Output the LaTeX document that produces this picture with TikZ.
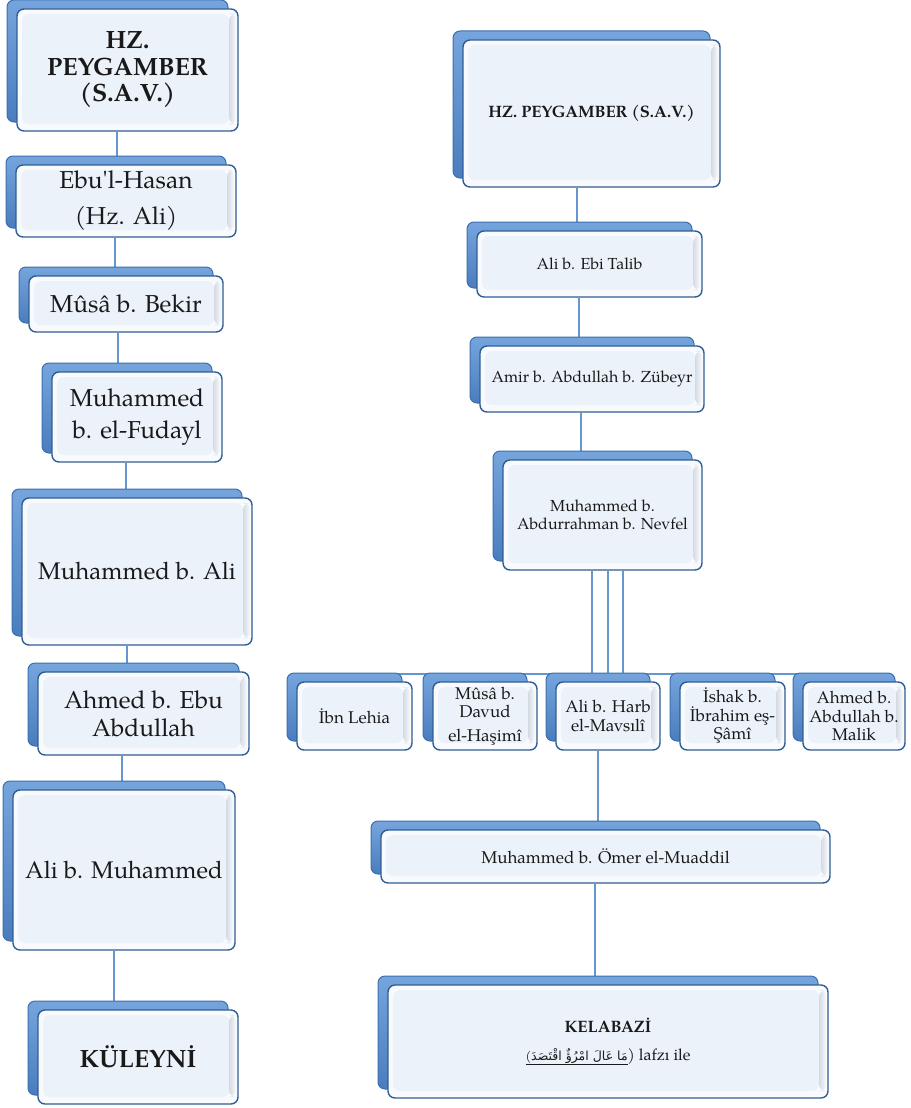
\documentclass[tikz,border=0pt]{standalone}
\usepackage{fontspec}
\setmainfont{texgyrepagella}[Extension=.otf, UprightFont=*-regular, BoldFont=*-bold, ItalicFont=*-italic, BoldItalicFont=*-bolditalic]
\newfontfamily\palq{texgyrepagella}[Extension=.otf, UprightFont=*-regular]
\newfontfamily\arabicfont[Script=Arabic]{DejaVu Sans}
\TeXXeTstate=1
\definecolor{frontb}{HTML}{2F5E93}
\definecolor{outerf}{HTML}{F8FAFD}
\definecolor{innerf}{HTML}{ECF2FA}
\definecolor{bevr}{HTML}{D3DAE3}
\definecolor{backb}{HTML}{3B6FAE}
\definecolor{backt}{HTML}{76A5DD}
\definecolor{backbt}{HTML}{4A7DBE}
\definecolor{connc}{HTML}{6696D0}
\pgfdeclarelayer{background}
\pgfsetlayers{background,main}
\tikzset{
  front/.style={draw=frontb, line width=1.4pt, rounded corners=7pt, fill=outerf, align=center, inner sep=2pt, text=black!90,
    path picture={
      \fill[innerf] ([shift={(5pt,7pt)}]path picture bounding box.south west) rectangle ([shift={(-9pt,-5pt)}]path picture bounding box.north east);
      \shade[left color=bevr, right color=outerf] ([shift={(-9pt,7pt)}]path picture bounding box.south east) rectangle ([shift={(-2pt,-5pt)}]path picture bounding box.north east);
    }},
  backbox/.style={draw=backb, line width=1pt, rounded corners=7pt, top color=backt, bottom color=backbt, inner sep=0pt},
  conn/.style={draw=connc, line width=2pt},
  fbig/.style={font=\fontsize{24}{34}\selectfont},
  fbigb/.style={font=\bfseries\fontsize{25}{26.5}\selectfont},
  fmid/.style={font=\fontsize{16}{18}\selectfont},
  fmidb/.style={font=\bfseries\fontsize{16.5}{18}\selectfont},
  frow/.style={font=\fontsize{17}{18.5}\selectfont},
}
\newcommand\bx[7]{%
  \node[backbox, minimum width=#4pt, minimum height=#5pt] (#1b) at ({#2-10},{#3+9}) {};
  \node[front, minimum width=#4pt, minimum height=#5pt, #6] (#1) at (#2,#3) {#7};
}
\begin{document}
\begin{tikzpicture}[x=1pt,y=1pt]
\useasboundingbox (0,0) rectangle (910,-1108);
% left column
\bx{L1}{127.5}{-70}{221}{122}{fbigb}{HZ.\\PEYGAMBER\\(S.A.V.)}
\bx{L2}{126}{-201}{220}{72}{font=\fontsize{24.5}{36}\selectfont}{Ebu{\palq '}l-Hasan\\(Hz. Ali)}
\bx{L3}{126}{-304}{194}{56}{font=\fontsize{24.5}{34}\selectfont}{Mûsâ b. Bekir}
\bx{L4}{137}{-417}{170}{90}{font=\fontsize{24.5}{32}\selectfont}{Muhammed\\b. el-Fudayl}
\bx{L5}{137}{-571.5}{230}{147}{fbig}{Muhammed b. Ali}
\bx{L6}{143.5}{-713.5}{211}{83}{font=\fontsize{24.5}{28}\selectfont}{Ahmed b. Ebu\\Abdullah}
\bx{L7}{124}{-870}{222}{160}{fbig}{Ali b. Muhammed}
\bx{L8}{138}{-1057}{200}{94}{font=\bfseries\fontsize{25}{27}\selectfont}{KÜLEYNİ}
% right column
\bx{R1}{591.5}{-113.5}{257}{147}{fmidb}{HZ. PEYGAMBER (S.A.V.)}
\bx{R2}{589.5}{-264}{225}{66}{fmid}{Ali b. Ebi Talib}
\bx{R3}{592}{-379}{224}{66}{fmid}{Amir b. Abdullah b. Zübeyr}
\bx{R4}{602.5}{-515}{199}{110}{fmid}{Muhammed b.\\Abdurrahman b. Nevfel}
\bx{A}{354.5}{-716}{115}{68}{frow}{İbn Lehia}
\bx{B}{485}{-716}{104}{68}{frow}{Mûsâ b.\\Davud\\[5pt]el-Haşimî}
\bx{C}{608}{-716}{104}{68}{frow}{Ali b. Harb\\el-Mavsılî}
\bx{D}{732.5}{-716}{105}{68}{frow}{İshak b.\\İbrahim eş-\\Şâmî}
\bx{E}{854}{-716}{102}{68}{frow}{Ahmed b.\\Abdullah b.\\Malik}
\bx{R5}{605.5}{-856.5}{449}{53}{font=\fontsize{17}{20}\selectfont}{Muhammed b. Ömer el-Muaddil}
\bx{R6}{608}{-1041.5}{440}{113}{font=\fontsize{16}{28}\selectfont}{{\bfseries\fontsize{16.5}{20}\selectfont KELABAZİ}\\\underline{\hbox{\fontsize{12.5}{14}\selectfont(\arabicfont\beginR مَا عَالَ امْرُؤٌ اقْتَصَدَ\endR}}) lafzı ile}
% connector coordinates
\coordinate (x1) at (117,0);
\coordinate (x2) at (115,0);
\coordinate (x3) at (118,0);
\coordinate (x4) at (126,0);
\coordinate (x5) at (127,0);
\coordinate (x6) at (122,0);
\coordinate (x7) at (114,0);
\coordinate (r1) at (577,0);
\coordinate (r2) at (579,0);
\coordinate (r3) at (581,0);
\coordinate (t1) at (592,0);
\coordinate (t2) at (608,0);
\coordinate (t3) at (623,0);
\coordinate (ybar) at (0,-674);
\coordinate (r5) at (598,0);
\coordinate (r6) at (595,0);
\begin{pgfonlayer}{background}
\draw[conn] (L1.south -| x1) -- (L2.north -| x1);
\draw[conn] (L2.south -| x2) -- (L3.north -| x2);
\draw[conn] (L3.south -| x3) -- (L4.north -| x3);
\draw[conn] (L4.south -| x4) -- (L5.north -| x4);
\draw[conn] (L5.south -| x5) -- (L6.north -| x5);
\draw[conn] (L6.south -| x6) -- (L7.north -| x6);
\draw[conn] (L7.south -| x7) -- (L8.north -| x7);
\draw[conn] (R1.south -| r1) -- (R2.north -| r1);
\draw[conn] (R2.south -| r2) -- (R3.north -| r2);
\draw[conn] (R3.south -| r3) -- (R4.north -| r3);
\draw[conn] (R4.south -| t1) -- (t1 |- ybar);
\draw[conn] (R4.south -| t2) -- (t2 |- ybar);
\draw[conn] (R4.south -| t3) -- (t3 |- ybar);
\draw[conn] (A.center |- ybar) -- (E.center |- ybar);
\draw[conn] (C.south -| r5) -- (R5.north -| r5);
\draw[conn] (R5.south -| r6) -- (R6.north -| r6);
\end{pgfonlayer}
\end{tikzpicture}
\end{document}
